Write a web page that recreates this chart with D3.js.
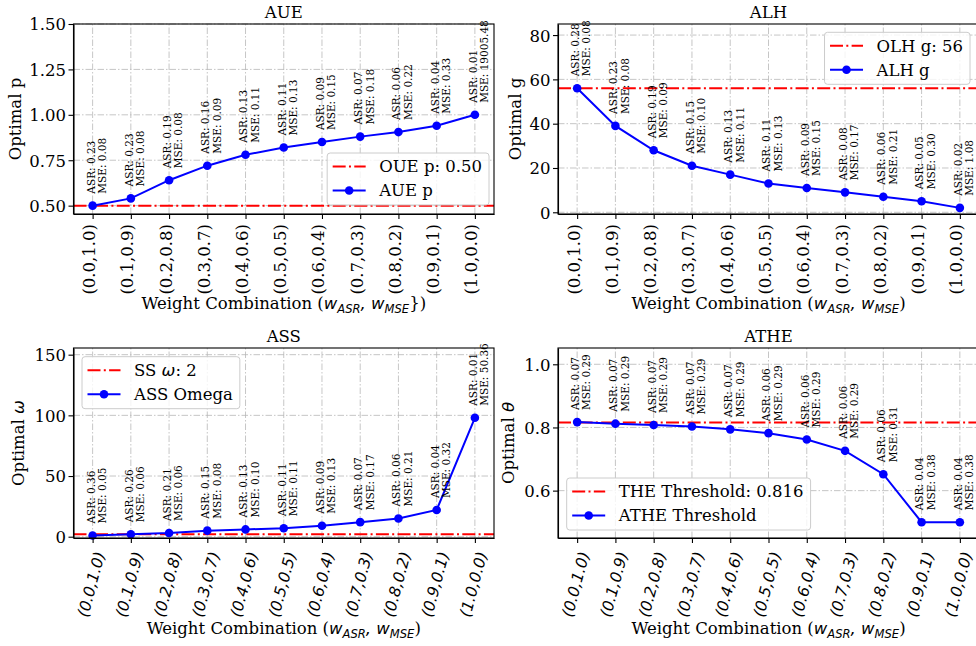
<!DOCTYPE html>
<html>
<head>
<meta charset="utf-8">
<script src="https://cdn.jsdelivr.net/npm/d3@7"></script>
<style>
  body { margin: 0; background: #fff; }
  svg { display: block; }
</style>
</head>
<body>
<svg id="fig" width="976" height="646"></svg>
<script>
// ---- data -------------------------------------------------------------
const weightCombos = ["(0.0,1.0)", "(0.1,0.9)", "(0.2,0.8)", "(0.3,0.7)", "(0.4,0.6)",
  "(0.5,0.5)", "(0.6,0.4)", "(0.7,0.3)", "(0.8,0.2)", "(0.9,0.1)", "(1.0,0.0)"];

// AUE: optimal p per weight combination
const aueP   = [0.50, 0.54, 0.64, 0.72, 0.78, 0.82, 0.85, 0.88, 0.905, 0.94, 1.00];
const aueASR = [0.23, 0.23, 0.19, 0.16, 0.13, 0.11, 0.09, 0.07, 0.06, 0.04, 0.01];
const aueMSE = [0.08, 0.08, 0.08, 0.09, 0.11, 0.13, 0.15, 0.18, 0.22, 0.33, 19005.48];
const oueP = 0.50;
const aueTicks = [0.50, 0.75, 1.00, 1.25, 1.50];

// ALH: optimal g
const alhG   = [56, 39, 28, 21, 17, 13, 11, 9, 7, 5, 2];
const alhASR = [0.28, 0.23, 0.19, 0.15, 0.13, 0.11, 0.09, 0.08, 0.06, 0.05, 0.02];
const alhMSE = [0.08, 0.08, 0.09, 0.10, 0.11, 0.13, 0.15, 0.17, 0.21, 0.30, 1.08];
const olhG = 56;
const alhTicks = [0, 20, 40, 60, 80];

// ASS: optimal omega
const assOmega = [1, 2, 3, 5, 6, 7, 9, 12, 15, 22, 98];
const assASR   = [0.36, 0.26, 0.21, 0.15, 0.13, 0.11, 0.09, 0.07, 0.06, 0.04, 0.01];
const assMSE   = [0.05, 0.06, 0.06, 0.08, 0.10, 0.11, 0.13, 0.17, 0.21, 0.32, 50.36];
const ssOmega = 2;
const assTicks = [0, 50, 100, 150];

// ATHE: optimal threshold theta
const atheTheta = [0.817, 0.812, 0.808, 0.803, 0.794, 0.782, 0.762, 0.726, 0.652, 0.50, 0.50];
const atheASR   = [0.07, 0.07, 0.07, 0.07, 0.07, 0.06, 0.06, 0.06, 0.06, 0.04, 0.04];
const atheMSE   = [0.29, 0.29, 0.29, 0.29, 0.29, 0.29, 0.29, 0.29, 0.31, 0.38, 0.38];
const theThreshold = 0.816;
const atheTicks = [0.6, 0.8, 1.0];

// ---- styling ----------------------------------------------------------
const SERIF = "'DejaVu Serif', serif";
const SANS = "'DejaVu Sans', sans-serif";
const FS = 16.5;
const TILT_FS = 15.6;
const ANN_FS = 10.5;
const BLUE = "#0000ff", RED = "#ff0000";
const GRID_DASH = "6.5,2,1.5,2";
const RED_DASH = "13,3.3,2,3.3";

// rich text: segments of [string, isMath, subscriptShift]
function richText(sel, segs) {
  segs.forEach(([s, m, sub]) => {
    const t = sel.append("tspan").text(s);
    if (m) t.attr("font-family", SANS).attr("font-style", "italic");
    if (sub === 1) t.attr("font-size", FS * 0.7).attr("dy", 3.6);
    if (sub === -1) t.attr("dy", -3.6);
  });
  return sel;
}

const xlabelSegs = (brace) => [
  ["Weight Combination (", 0],
  ["w", 1], ["ASR", 1, 1], [", ", 1, -1], ["w", 1], ["MSE", 1, 1],
  [brace ? "})" : ")", 0, -1]
];

const panels = [
  { title: "AUE", xr: [73.5, 494], yr: [214, 24], dom: [0.454, 1.5], ticks: aueTicks, fmt: d3.format(".2f"),
    vals: aueP, asr: aueASR, mse: aueMSE, ref: oueP,
    refLabel: [["OUE p: " + oueP.toFixed(2), 0]], serLabel: [["AUE p", 0]],
    ylabel: [["Optimal p", 0]], ylabX: 21, brace: true, tilt: false,
    legend: { right: 489, bottom: 205 } },
  { title: "ALH", xr: [558, 979], yr: [214, 24], dom: [-0.77, 85.0], ticks: alhTicks, fmt: d3.format("d"),
    vals: alhG, asr: alhASR, mse: alhMSE, ref: olhG,
    refLabel: [["OLH g: " + olhG, 0]], serLabel: [["ALH g", 0]],
    ylabel: [["Optimal g", 0]], ylabX: 521, brace: false, tilt: false,
    legend: { right: 970, top: 32.3 } },
  { title: "ASS", xr: [73.5, 494], yr: [538, 348], dom: [-1.07, 155.5], ticks: assTicks, fmt: d3.format("d"),
    vals: assOmega, asr: assASR, mse: assMSE, ref: ssOmega,
    refLabel: [["SS ", 0], ["\u03c9", 1], [": " + ssOmega, 0]], serLabel: [["ASS Omega", 0]],
    ylabel: [["Optimal ", 0], ["\u03c9", 1]], ylabX: 24, brace: false, tilt: true,
    legend: { left: 82, top: 356.7 } },
  { title: "ATHE", xr: [558, 979], yr: [538, 348], dom: [0.450, 1.0516], ticks: atheTicks, fmt: d3.format(".1f"),
    vals: atheTheta, asr: atheASR, mse: atheMSE, ref: theThreshold,
    refLabel: [["THE Threshold: " + theThreshold.toFixed(3), 0]], serLabel: [["ATHE Threshold", 0]],
    ylabel: [["Optimal ", 0], ["\u03b8", 1]], ylabX: 514, brace: false, tilt: true,
    legend: { left: 566.7, bottom: 530 } }
];

const svg = d3.select("#fig");
svg.append("rect").attr("width", 976).attr("height", 646).attr("fill", "#fff");

panels.forEach(p => {
  const x = d3.scalePoint().domain(weightCombos).range(p.xr).padding(0.5);
  const y = d3.scaleLinear().domain(p.dom).range(p.yr);
  const [x0, x1] = p.xr, [yb, yt] = p.yr;
  const g = svg.append("g");

  // grid
  const grid = g.append("g").attr("stroke", "#b8b8b8").attr("stroke-width", 0.8)
    .attr("stroke-dasharray", GRID_DASH).attr("fill", "none");
  weightCombos.forEach(c => grid.append("line").attr("x1", x(c)).attr("x2", x(c)).attr("y1", yb).attr("y2", yt));
  p.ticks.forEach(t => grid.append("line").attr("x1", x0).attr("x2", x1).attr("y1", y(t)).attr("y2", y(t)));

  // reference line
  g.append("line").attr("x1", x0).attr("x2", x1).attr("y1", y(p.ref)).attr("y2", y(p.ref))
    .attr("stroke", RED).attr("stroke-width", 2).attr("stroke-dasharray", RED_DASH);

  // series
  const line = d3.line().x((d, i) => x(weightCombos[i])).y(d => y(d));
  g.append("path").datum(p.vals).attr("d", line).attr("fill", "none")
    .attr("stroke", BLUE).attr("stroke-width", 2);
  g.selectAll(null).data(p.vals).join("circle")
    .attr("cx", (d, i) => x(weightCombos[i])).attr("cy", d => y(d)).attr("r", 4.3).attr("fill", BLUE);

  // ASR / MSE annotations
  p.vals.forEach((v, i) => {
    const px = x(weightCombos[i]), py = y(v);
    [["ASR: " + p.asr[i].toFixed(2), 1.9], ["MSE: " + p.mse[i].toFixed(2), 13.3]].forEach(([s, dx]) => {
      g.append("text").attr("transform", `translate(${px + dx},${py - 12}) rotate(-90)`)
        .attr("font-family", SERIF).attr("font-size", ANN_FS).attr("fill", "#000").text(s);
    });
  });

  // spines
  g.append("rect").attr("x", x0).attr("y", yt).attr("width", x1 - x0).attr("height", yb - yt)
    .attr("fill", "none").attr("stroke", "#000").attr("stroke-width", 1.1);

  // y axis
  const ya = g.append("g").attr("transform", `translate(${x0},0)`)
    .call(d3.axisLeft(y).tickValues(p.ticks).tickFormat(p.fmt).tickSize(5).tickPadding(2.5).tickSizeOuter(0));
  ya.select(".domain").attr("stroke-width", 1.1);
  ya.selectAll(".tick line").attr("stroke-width", 1.1);
  ya.selectAll("text").attr("font-family", SERIF).attr("font-size", FS).attr("dy", "0.36em");

  // x axis
  const xa = g.append("g").attr("transform", `translate(0,${yb})`)
    .call(d3.axisBottom(x).tickSize(5).tickSizeOuter(0));
  xa.select(".domain").attr("stroke-width", 1.1);
  xa.selectAll(".tick line").attr("stroke-width", 1.1);
  const xt = xa.selectAll(".tick text").attr("dy", null);
  if (!p.tilt) {
    xt.attr("font-family", SERIF).attr("font-size", FS).attr("text-anchor", "end").attr("x", null).attr("y", null)
      .attr("transform", "translate(2,10) rotate(-90)");
  } else {
    xt.attr("font-family", SANS).attr("font-size", TILT_FS).attr("font-style", "italic").attr("text-anchor", "middle")
      .attr("dominant-baseline", "central").attr("x", null).attr("y", null)
      .each(function () {
        const L = this.getComputedTextLength();
        const a = 75 * Math.PI / 180;
        const H = L * Math.sin(a) + 17 * Math.cos(a);
        d3.select(this).attr("transform", `translate(-1.5,${12 + H / 2}) rotate(-75)`);
      });
  }

  // title
  g.append("text").attr("x", (x0 + x1) / 2).attr("y", yt - 5.7).attr("text-anchor", "middle")
    .attr("font-family", SERIF).attr("font-size", FS).text(p.title);

  // x label
  richText(g.append("text").attr("x", (x0 + x1) / 2).attr("y", yb + (p.tilt ? 96 : 95))
    .attr("text-anchor", "middle").attr("font-family", SERIF).attr("font-size", FS), xlabelSegs(p.brace));

  // y label
  richText(g.append("text").attr("transform", `translate(${p.ylabX},${(yb + yt) / 2}) rotate(-90)`)
    .attr("text-anchor", "middle").attr("font-family", SERIF).attr("font-size", FS), p.ylabel);

  // legend
  const lg = g.append("g");
  const box = lg.append("rect").attr("rx", 3).attr("fill", "#fff").attr("fill-opacity", 0.8)
    .attr("stroke", "#cccccc").attr("stroke-width", 1);
  const t1 = richText(lg.append("text").attr("font-family", SERIF).attr("font-size", FS), p.refLabel);
  const t2 = richText(lg.append("text").attr("font-family", SERIF).attr("font-size", FS), p.serLabel);
  const tw = Math.max(t1.node().getComputedTextLength(), t2.node().getComputedTextLength());
  const W = 52 + tw + 7, Hh = 52;
  const L = p.legend;
  const bx = L.left !== undefined ? L.left : L.right - W;
  const by = L.top !== undefined ? L.top : L.bottom - Hh;
  box.attr("x", bx).attr("y", by).attr("width", W).attr("height", Hh);
  const e1 = by + 13.5, e2 = by + 37.5;
  lg.append("line").attr("x1", bx + 5.5).attr("x2", bx + 38.5).attr("y1", e1).attr("y2", e1)
    .attr("stroke", RED).attr("stroke-width", 2).attr("stroke-dasharray", RED_DASH);
  lg.append("line").attr("x1", bx + 5.5).attr("x2", bx + 38.5).attr("y1", e2).attr("y2", e2)
    .attr("stroke", BLUE).attr("stroke-width", 2);
  lg.append("circle").attr("cx", bx + 22).attr("cy", e2).attr("r", 4.3).attr("fill", BLUE);
  t1.attr("x", bx + 52).attr("y", e1).attr("dy", "0.36em");
  t2.attr("x", bx + 52).attr("y", e2).attr("dy", "0.36em");
  t1.raise(); t2.raise();
});
</script>
</body>
</html>
